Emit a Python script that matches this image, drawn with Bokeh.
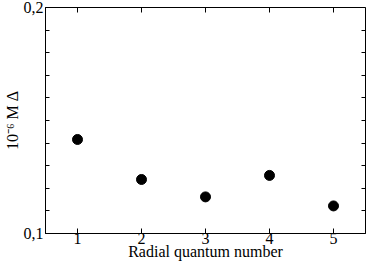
from bokeh.plotting import figure
from bokeh.models import FixedTicker, LinearAxis, Range1d
from bokeh.embed import file_html
from bokeh.resources import INLINE

# data
n_values = [1, 2, 3, 4, 5]
delta_values = [0.1416, 0.1239, 0.1162, 0.1257, 0.1122]
x_ticks = [1, 2, 3, 4, 5]
y_ticks = [0.1, 0.2]
y_minor = [0.11, 0.12, 0.13, 0.14, 0.15, 0.16, 0.17, 0.18, 0.19]
y_tick_labels = {0.1: "0,1", 0.2: "0,2"}
x_label = "Radial quantum number"
y_label = "10\u207b\u2076 M \u0394"
x_min, x_max = 0.5, 5.5
y_min, y_max = 0.1, 0.2

FONT = "Liberation Serif"

p = figure(width=366, height=262, output_backend="svg", toolbar_location=None,
           x_range=Range1d(x_min, x_max), y_range=Range1d(y_min, y_max),
           min_border_top=7, min_border_right=1, min_border_left=0, min_border_bottom=0)
p.grid.visible = False
p.outline_line_color = "black"
p.outline_line_width = 1
p.background_fill_color = "white"
p.border_fill_color = "white"

p.scatter(n_values, delta_values, size=10, color="black")

def style(ax):
    ax.axis_line_color = "black"
    ax.major_tick_line_color = "black"
    ax.minor_tick_line_color = "black"
    ax.major_tick_in = 5
    ax.major_tick_out = 0
    ax.minor_tick_in = 4
    ax.minor_tick_out = 0
    ax.major_label_text_font = FONT
    ax.major_label_text_font_size = "16px"
    ax.major_label_text_color = "black"
    ax.major_label_standoff = 0
    ax.axis_label_text_font = FONT
    ax.axis_label_text_font_size = "16px"
    ax.axis_label_text_font_style = "normal"
    ax.axis_label_text_color = "black"

xa = p.xaxis[0]
xa.ticker = FixedTicker(ticks=x_ticks, minor_ticks=[])
xa.axis_label = x_label
style(xa)
xa.major_label_standoff = -1
xa.axis_label_standoff = -4

ya = p.yaxis[0]
ya.ticker = FixedTicker(ticks=y_ticks, minor_ticks=y_minor)
ya.major_label_overrides = y_tick_labels
ya.axis_label = y_label
style(ya)
ya.axis_label_standoff = 0
ya.major_label_standoff = 2

top = LinearAxis(ticker=FixedTicker(ticks=x_ticks, minor_ticks=[]), fixed_location=y_max)
top.major_label_overrides = {t: "" for t in x_ticks}
style(top)
p.add_layout(top, "above")

right = LinearAxis(ticker=FixedTicker(ticks=y_ticks, minor_ticks=y_minor), fixed_location=x_max)
right.major_label_overrides = {t: "" for t in y_ticks}
style(right)
p.add_layout(right, "right")

open("out.html", "w").write(file_html(p, INLINE))
